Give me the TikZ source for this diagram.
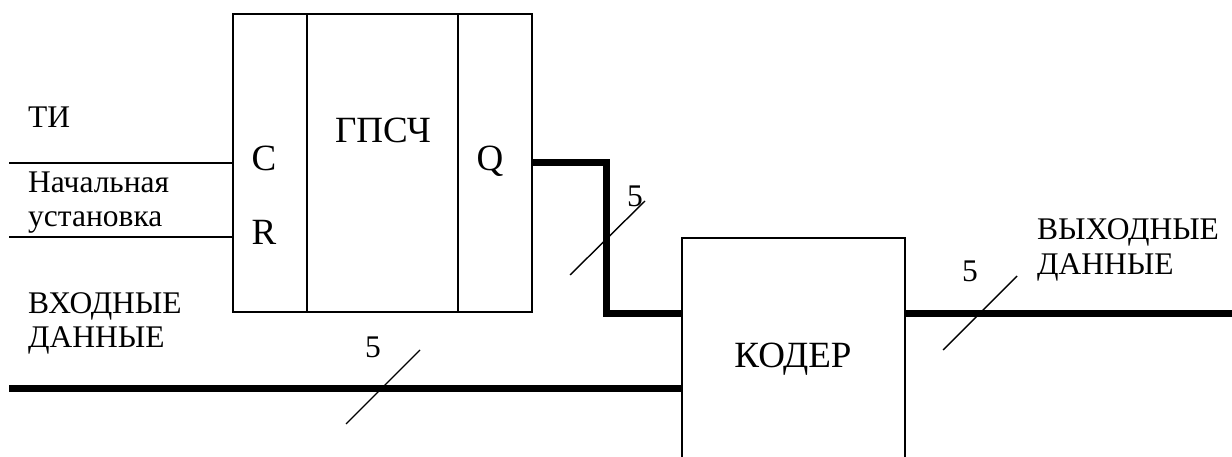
\documentclass[tikz,border=0pt]{standalone}
\usepackage{fontspec}
\setmainfont{Liberation Serif}
\usetikzlibrary{positioning}

\tikzset{
  wire/.style={line width=1.6pt},
  bus/.style={line width=7pt},
  tick/.style={line width=1.4pt},
  sm/.style={inner sep=0pt, font=\fontsize{31.5}{34}\selectfont},
  bg/.style={inner sep=0pt, font=\fontsize{37}{40}\selectfont}
}

\begin{document}
\begin{tikzpicture}[x=1pt, y=-1pt]
  \useasboundingbox (0,0) rectangle (1232,457);
  \clip (0,0) rectangle (1232,457);

  % generator block
  \node[draw, wire, minimum width=299pt, minimum height=298pt] (gen) at (382.5,163) {};
  \draw[wire] ([xshift=75pt]gen.north west) -- ([xshift=75pt]gen.south west);
  \draw[wire] ([xshift=-75pt]gen.north east) -- ([xshift=-75pt]gen.south east);
  \node[bg, anchor=base] (genlbl) at (383,143) {ГПСЧ};
  \node[bg, anchor=base] (clbl) at (264,171) {C};
  \node[bg, anchor=base] (rlbl) at (264,245) {R};
  \node[bg, anchor=base] (qlbl) at (490,171) {Q};

  % coder block
  \node[draw, wire, minimum width=223pt, minimum height=240pt] (coder) at (793.5,358) {};
  \node[bg, anchor=base] (coderlbl) at (793,367) {КОДЕР};

  % inputs
  \coordinate (tiin) at (9,163);
  \coordinate (rstin) at (9,237);
  \coordinate (din) at (9,388);
  \coordinate (dout) at (1232,313);
  \draw[wire] (tiin) -- (tiin -| gen.west);
  \draw[wire] (rstin) -- (rstin -| gen.west);
  \draw[bus] (din) -- (din -| coder.west);
  \draw[bus] (gen.east |- tiin) -| ([xshift=-75pt]coder.west |- dout) -- (coder.west |- dout);
  \draw[bus] (coder.east |- dout) -- (dout);

  % bus width marks
  \draw[tick] (346,424) -- ++(74,-74);
  \draw[tick] (570,275) -- ++(75,-74);
  \draw[tick] (943,350) -- ++(74,-74);
  \node[sm, anchor=base] (n1) at (373,357) {5};
  \node[sm, anchor=base] (n2) at (635,207) {5};
  \node[sm, anchor=base] (n3) at (970,282) {5};

  % labels
  \node[sm, anchor=base west] (ti) at (28,128) {ТИ};
  \node[sm, anchor=base west] (rst1) at (28,193) {Начальная};
  \node[sm, anchor=base west] (rst2) at (28,227) {установка};
  \node[sm, anchor=base west] (in1) at (28,313) {ВХОДНЫЕ};
  \node[sm, anchor=base west] (in2) at (28,347) {ДАННЫЕ};
  \node[sm, anchor=base west] (out1) at (1037,240) {ВЫХОДНЫЕ};
  \node[sm, anchor=base west] (out2) at (1037,275) {ДАННЫЕ};
\end{tikzpicture}
\end{document}
